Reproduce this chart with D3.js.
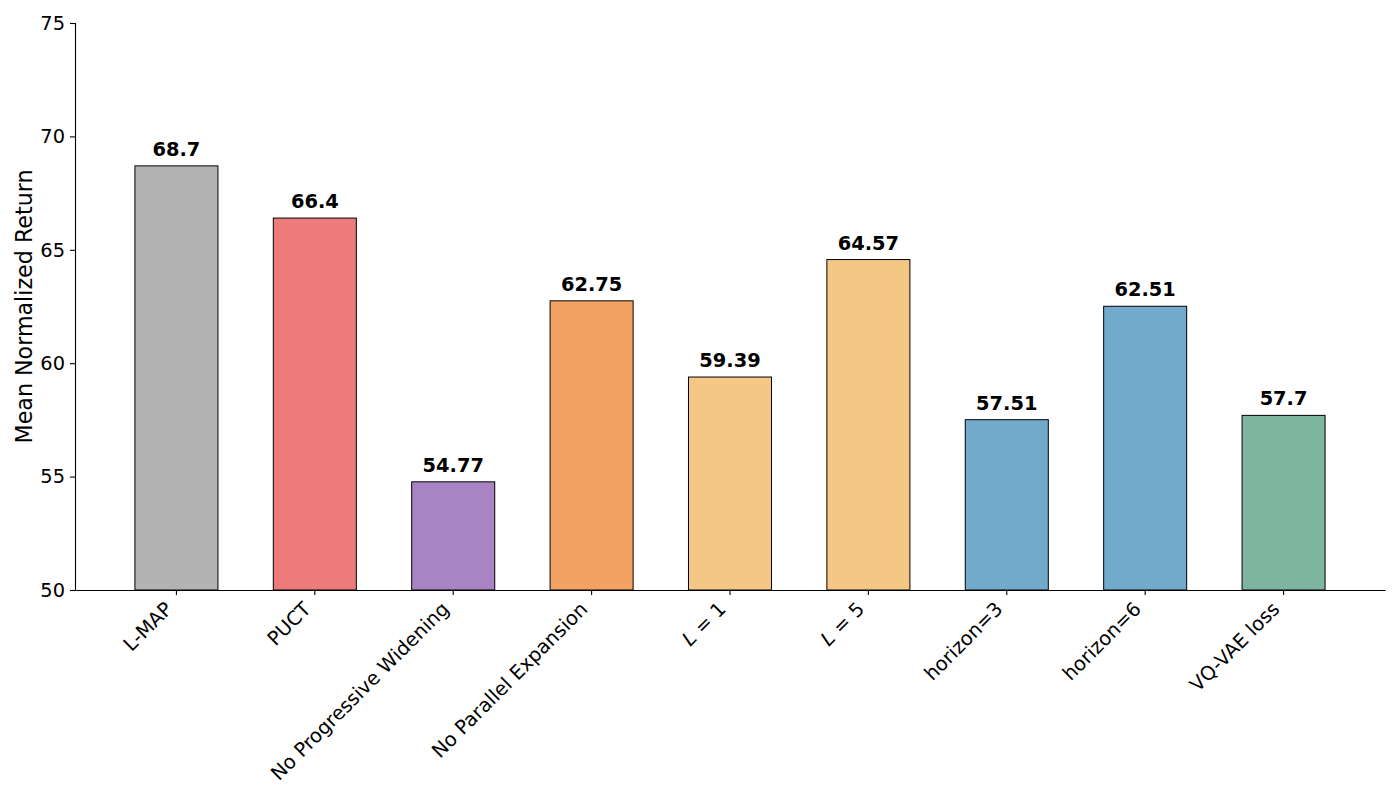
<!DOCTYPE html>
<html>
<head>
<meta charset="utf-8">
<script src="https://cdn.jsdelivr.net/npm/d3@7"></script>
<style>
  body { margin: 0; background: #fff; }
  svg, svg text { font-family: "DejaVu Sans", sans-serif; }
</style>
</head>
<body>
<div id="chart"></div>
<script>
// data
const categories = ["L-MAP", "PUCT", "No Progressive Widening", "No Parallel Expansion",
                    "L=1", "L=5", "horizon=3", "horizon=6", "VQ-VAE loss"];
const values = [68.7, 66.4, 54.77, 62.75, 59.39, 64.57, 57.51, 62.51, 57.7];
const valueLabels = ["68.7", "66.4", "54.77", "62.75", "59.39", "64.57", "57.51", "62.51", "57.7"];
const barColors = ["#b3b3b3", "#ed7b7b", "#a884c4", "#f2a363", "#f5c784",
                   "#f5c784", "#72aacb", "#72aacb", "#7db5a0"];
const yTicks = [50, 55, 60, 65, 70, 75];

const W = 1400, H = 800;
const margin = { top: 23, right: 15, bottom: 210, left: 75 };
const width = W - margin.left - margin.right,
      height = H - margin.top - margin.bottom;

const svg = d3.select("#chart").append("svg")
  .attr("width", W).attr("height", H);
const g = svg.append("g")
  .attr("transform", `translate(${margin.left},${margin.top})`);

const x = d3.scaleBand()
  .domain(categories)
  .range([0, width])
  .paddingInner(0.4)
  .paddingOuter(0.433);

const y = d3.scaleLinear()
  .domain([50, 75])
  .range([height, 0]);

// bars
g.selectAll(".bar")
  .data(categories)
  .enter().append("rect")
  .attr("class", "bar")
  .attr("x", d => x(d))
  .attr("y", (d, i) => y(values[i]))
  .attr("width", x.bandwidth())
  .attr("height", (d, i) => height - y(values[i]))
  .attr("fill", (d, i) => barColors[i])
  .attr("stroke", "#000")
  .attr("stroke-width", 1);

// value labels
g.selectAll(".bar-label")
  .data(categories)
  .enter().append("text")
  .attr("class", "bar-label")
  .attr("x", d => x(d) + x.bandwidth() / 2)
  .attr("y", (d, i) => y(values[i]) - 10)
  .attr("text-anchor", "middle")
  .style("font-size", "19.4px")
  .style("font-weight", "bold")
  .text((d, i) => valueLabels[i]);

// y axis
const yAxis = g.append("g")
  .call(d3.axisLeft(y).tickValues(yTicks).tickSize(5).tickPadding(5).tickFormat(d3.format("d")))
  .attr("font-family", null).attr("font-size", null);
yAxis.selectAll("text").style("font-size", "19.4px").attr("fill", "#000");
yAxis.select(".domain").attr("stroke", "#000").attr("stroke-width", 1.1);
yAxis.selectAll(".tick line").attr("stroke", "#000").attr("stroke-width", 1.1);

// x axis
const xAxis = g.append("g")
  .attr("transform", `translate(0,${height})`)
  .call(d3.axisBottom(x).tickSize(5).tickSizeOuter(0))
  .attr("font-family", null).attr("font-size", null);
xAxis.select(".domain").attr("stroke", "#000").attr("stroke-width", 1.1);
xAxis.selectAll(".tick line").attr("stroke", "#000").attr("stroke-width", 1.1);
xAxis.selectAll(".tick text").remove();
xAxis.selectAll(".tick").each(function(d) {
  const t = d3.select(this).append("text")
    .attr("fill", "#000")
    .attr("text-anchor", "end")
    .attr("transform", "translate(-2.9,20.2) rotate(-45)")
    .style("font-size", "19.5px");
  const m = /^L=(\d)$/.exec(d);
  if (m) {
    t.append("tspan").style("font-style", "italic").text("L");
    t.append("tspan").text(" = " + m[1]);
  } else {
    t.text(d);
  }
});

// y label
svg.append("text")
  .attr("transform", `translate(32,${margin.top + height / 2}) rotate(-90)`)
  .attr("text-anchor", "middle")
  .style("font-size", "22.2px")
  .text("Mean Normalized Return");
</script>
</body>
</html>
